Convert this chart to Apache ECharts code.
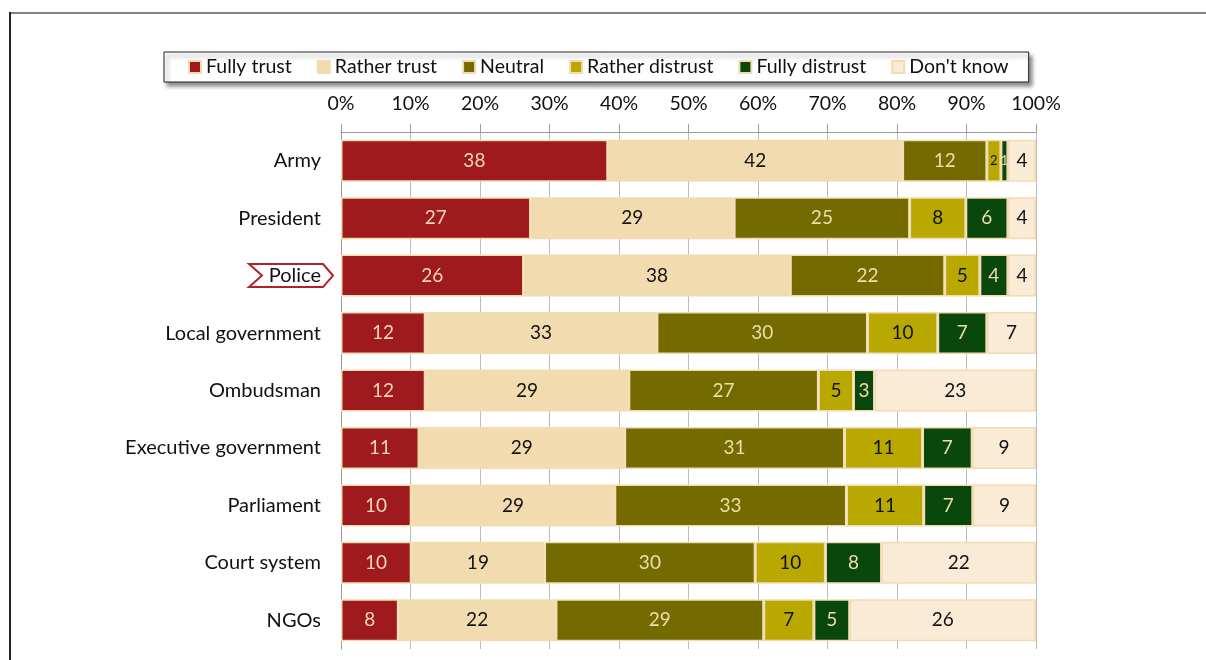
<!DOCTYPE html>
<html>
<head>
<meta charset="utf-8">
<script src="https://cdn.jsdelivr.net/npm/echarts@6/dist/echarts.min.js"></script>
<style>
  html, body { margin: 0; padding: 0; background: #fff; }
  #chart { width: 1206px; height: 660px; }
</style>
</head>
<body>
<div id="chart"></div>
<script>
// institutions, top to bottom
var categories = ['Army', 'President', 'Police', 'Local government', 'Ombudsman',
  'Executive government', 'Parliament', 'Court system', 'NGOs']

var seriesNames = ['Fully trust', 'Rather trust', 'Neutral', 'Rather distrust', 'Fully distrust', "Don't know"]

// percentages as printed on the bars
var fullyTrust = [38, 27, 26, 12, 12, 11, 10, 10, 8]
var ratherTrust = [42, 29, 38, 33, 29, 29, 29, 19, 22]
var neutral = [12, 25, 22, 30, 27, 31, 33, 30, 29]
var ratherDistrust = [2, 8, 5, 10, 5, 11, 11, 10, 7]
var fullyDistrust = [1, 6, 4, 7, 3, 7, 7, 8, 5]
var dontKnow = [4, 4, 4, 7, 23, 9, 9, 22, 26]

var xTicks = [0, 10, 20, 30, 40, 50, 60, 70, 80, 90, 100]

var colors = ['#9E1A1C', '#F3DBB0', '#756A00', '#B8A800', '#0A470D', '#FAEBD7']
var labelColors = ['#F3D6BE', '#111', '#EFDDAA', '#111', '#EFDDAA', '#111']
var FONT = 'Lato'

var chart = echarts.init(document.getElementById('chart'))

var allRows = [fullyTrust, ratherTrust, neutral, ratherDistrust, fullyDistrust, dontKnow]
// 100% stacked: each row is scaled to its own total
var totals = categories.map(function (c, i) {
  return allRows.reduce(function (s, arr) { return s + arr[i] }, 0)
})

var series = allRows.map(function (arr, k) {
  return {
    name: seriesNames[k],
    type: 'bar',
    stack: 'all',
    barWidth: 42,
    itemStyle: {
      color: colors[k],
      borderColor: '#F3DBB0',
      borderWidth: 1.5
    },
    label: {
      show: true,
      position: 'inside',
      color: labelColors[k],
      fontFamily: FONT,
      fontSize: 19,
      formatter: function (p) { return p.data.raw }
    },
    data: arr.map(function (v, i) {
      var item = { value: v / totals[i] * 100, raw: v }
      if (v <= 2) item.label = { fontSize: 13 }
      return item
    })
  }
})

chart.setOption({
  animation: false,
  textStyle: { fontFamily: FONT },
  legend: {
    data: seriesNames,
    left: 164,
    top: 52,
    padding: [5, 20, 5, 24],
    itemGap: 25,
    itemWidth: 12,
    itemHeight: 12,
    icon: 'rect',
    backgroundColor: '#fff',
    borderColor: '#222',
    borderWidth: 1,
    shadowColor: 'rgba(0,0,0,0.45)',
    shadowBlur: 4,
    shadowOffsetX: 3,
    shadowOffsetY: 4,
    textStyle: { fontFamily: FONT, fontSize: 19.5, color: '#111' }
  },
  grid: { left: 341, right: 170, top: 132, bottom: 11 },
  xAxis: {
    type: 'value',
    position: 'top',
    min: xTicks[0],
    max: xTicks[xTicks.length - 1],
    interval: 10,
    axisLine: { show: true, lineStyle: { color: '#9a9a9a' } },
    axisTick: { show: true, length: 8, lineStyle: { color: '#9a9a9a' } },
    splitLine: { lineStyle: { color: '#BDBDBD' } },
    axisLabel: {
      margin: 18,
      fontFamily: FONT,
      fontSize: 19.5,
      color: '#111',
      formatter: '{value}%'
    }
  },
  yAxis: {
    type: 'category',
    inverse: true,
    data: categories,
    axisLine: { lineStyle: { color: '#9a9a9a' } },
    axisTick: { length: 7, lineStyle: { color: '#9a9a9a' } },
    axisLabel: { margin: 20, fontFamily: FONT, fontSize: 20, color: '#111' }
  },
  series: series
})

// frame lines and the marker around "Police"
var cy = chart.convertToPixel({ yAxisIndex: 0 }, 'Police')
chart.setOption({
  graphic: [
    { type: 'line', shape: { x1: 10, y1: 13, x2: 1206, y2: 13 }, style: { stroke: '#808080', lineWidth: 2 } },
    { type: 'line', shape: { x1: 10, y1: 12, x2: 10, y2: 660 }, style: { stroke: '#222', lineWidth: 2 } },
    {
      type: 'polygon',
      shape: {
        points: [[249, cy - 11.5], [323, cy - 11.5], [333, cy], [323, cy + 11.5], [249, cy + 11.5], [262, cy]]
      },
      style: { fill: 'none', stroke: '#B02226', lineWidth: 2 }
    }
  ]
})
</script>
</body>
</html>
